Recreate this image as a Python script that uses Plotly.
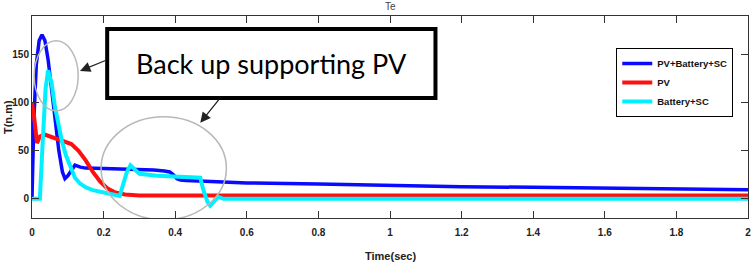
import plotly.graph_objects as go

# ---- data ----
t_hybrid = [0, 0.005, 0.012, 0.02, 0.028, 0.036, 0.045, 0.055, 0.065, 0.075, 0.085, 0.092, 0.1, 0.11, 0.12, 0.135,
            0.15, 0.2, 0.25, 0.3, 0.34, 0.37, 0.385, 0.395, 0.405, 0.415, 0.43, 0.5, 0.6, 0.8, 1.0, 1.2, 1.4, 1.6, 1.8, 2.0]
te_hybrid = [0, 80, 140, 165, 171, 165, 145, 115, 80, 50, 28, 21, 24, 30, 35, 33,
             32, 31.5, 31, 31, 30, 29, 28, 25, 21, 19.5, 19, 18, 16.5, 15.5, 14, 12.5, 12, 11, 10.3, 9.5]

t_pv = [0, 0.006, 0.014, 0.022, 0.035, 0.06, 0.09, 0.11, 0.13, 0.15, 0.17, 0.19, 0.21, 0.23, 0.26, 0.3, 0.5, 1.0, 1.5, 2.0]
te_pv = [100, 85, 58, 65, 67, 64, 60, 57, 50, 40, 28, 18, 11, 7, 4.5, 3.5, 3.5, 3.5, 3.5, 3.5]

t_batt = [0, 0.022, 0.03, 0.038, 0.045, 0.055, 0.064, 0.075, 0.083, 0.095, 0.106, 0.12, 0.134, 0.15, 0.17, 0.2, 0.22,
          0.245, 0.255, 0.265, 0.275, 0.285, 0.3, 0.35, 0.4, 0.47, 0.478, 0.49, 0.498, 0.51, 0.52, 0.535, 1.0, 2.0]
te_batt = [0, 0, 60, 115, 134, 120, 96, 75, 61, 45, 34, 22, 16, 12, 9, 6, 5,
           3, 15, 28, 35, 31, 26, 24, 23, 22, 10, -3, -7, -2, 2, 0, 0, 0]

series_names = ["PV+Battery+SC", "PV", "Battery+SC"]
x_ticks = [0, 0.2, 0.4, 0.6, 0.8, 1, 1.2, 1.4, 1.6, 1.8, 2]
x_tick_labels = ["0", "0.2", "0.4", "0.6", "0.8", "1", "1.2", "1.4", "1.6", "1.8", "2"]
y_ticks = [0, 50, 100, 150]
y_tick_labels = ["0", "50", "100", "150"]

FONT = "Liberation Sans, Arial, sans-serif"
tick_font = dict(family=FONT, size=10, color="#222", weight="bold")

fig = go.Figure()
fig.add_trace(go.Scatter(x=t_hybrid, y=te_hybrid, mode="lines", name=series_names[0],
                         line=dict(color="#0a0aff", width=3.5)))
fig.add_trace(go.Scatter(x=t_pv, y=te_pv, mode="lines", name=series_names[1],
                         line=dict(color="#ff1010", width=4)))
fig.add_trace(go.Scatter(x=t_batt, y=te_batt, mode="lines", name=series_names[2],
                         line=dict(color="#00f0ff", width=4)))

axis_common = dict(showline=True, linecolor="#333", linewidth=1, mirror="allticks", ticks="inside",
                   ticklen=7, tickcolor="#333", showgrid=False, zeroline=False, tickfont=tick_font,
                   automargin=False)

fig.update_xaxes(range=[0, 2], tickvals=x_ticks, ticktext=x_tick_labels, ticklabelstandoff=5, **axis_common)
fig.update_yaxes(range=[-20, 190.5], tickvals=y_ticks, ticktext=y_tick_labels, ticklabelstandoff=0, **axis_common)

# axis titles
fig.add_annotation(x=0.5, y=-0.149, xref="paper", yref="paper", text="Time(sec)", showarrow=False,
                   font=dict(family=FONT, size=11, color="#222", weight="bold"), xanchor="center", yanchor="top")
fig.add_annotation(x=-0.0335, y=0.5, xref="paper", yref="paper", text="T(n.m)", showarrow=False, textangle=-90,
                   font=dict(family=FONT, size=11, color="#222", weight="bold"), xanchor="center", yanchor="middle")

# ellipses
fig.add_shape(type="circle", xref="x", yref="y", x0=0.006, x1=0.129, y0=91.7, y1=164.6,
              line=dict(color="#b8b8b8", width=1.5))
fig.add_shape(type="circle", xref="x", yref="y", x0=0.193, x1=0.543, y0=-21.9, y1=85.4,
              line=dict(color="#b8b8b8", width=1.5))

# annotation box
fig.add_shape(type="rect", xref="x", yref="y", x0=0.21, x1=1.127, y0=105, y1=177,
              line=dict(color="black", width=4), fillcolor="white", layer="above")
fig.add_annotation(x=(0.21 + 1.127) / 2, y=140.5, xref="x", yref="y", text="Back up supporting PV",
                   showarrow=False, font=dict(family="Lato, Open Sans", size=27, color="black"))

# arrows
fig.add_annotation(x=0.134, y=133.3, xref="x", yref="y", text="", showarrow=True, ax=27, ay=-11,
                   arrowhead=2, arrowsize=1.6, arrowwidth=1.3, arrowcolor="#222", standoff=0)
fig.add_annotation(x=0.47, y=79.2, xref="x", yref="y", text="", showarrow=True, ax=20, ay=-25,
                   arrowhead=2, arrowsize=1.6, arrowwidth=1.3, arrowcolor="#222", standoff=0)

# title (cut off at top in reference)
fig.add_annotation(x=0.5, y=1.045, xref="paper", yref="paper", text="Te", showarrow=False,
                   font=dict(family=FONT, size=10, color="#444"), xanchor="center", yanchor="middle")

fig.update_layout(
    width=754, height=270,
    margin=dict(l=32, r=6, t=16, b=52),
    paper_bgcolor="white", plot_bgcolor="white",
    showlegend=True,
    legend=dict(x=0.816, y=0.842, xanchor="left", yanchor="top", bordercolor="black", borderwidth=1,
                bgcolor="white", font=dict(family=FONT, size=9.5, color="#111", weight="bold"),
                tracegroupgap=0, itemwidth=30),
)

fig.write_html("out.html", config={"displayModeBar": False},
               post_script="document.body.style.margin='0';")
